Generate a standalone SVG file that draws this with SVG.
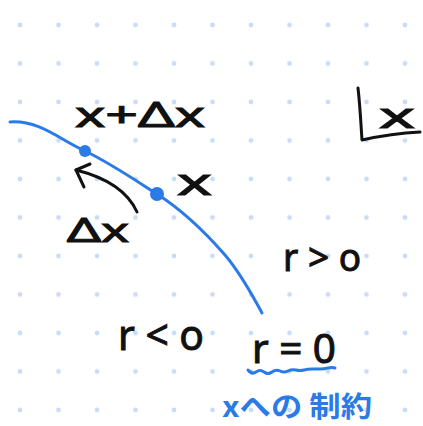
<svg xmlns="http://www.w3.org/2000/svg" width="423" height="426" viewBox="0 0 423 426">
<defs>
<pattern id="dots" x="0" y="0" width="38.5" height="38.5" patternUnits="userSpaceOnUse" patternTransform="translate(20,25)">
<circle cx="0" cy="0" r="2.4" fill="#c9dcf7"/><circle cx="38.5" cy="0" r="2.4" fill="#c9dcf7"/><circle cx="0" cy="38.5" r="2.4" fill="#c9dcf7"/><circle cx="38.5" cy="38.5" r="2.4" fill="#c9dcf7"/>
</pattern>
<style>
.ink{font-family:"Noto Sans","DejaVu Sans",sans-serif;fill:#111;stroke:#111;stroke-width:1;}
.blue{font-family:"Noto Sans CJK JP","Noto Sans",sans-serif;fill:#2a7ae8;font-weight:bold;}
.stroke{fill:none;stroke:#111;stroke-width:3;stroke-linecap:round;stroke-linejoin:round;}
.bstroke{fill:none;stroke:#2a7ae8;stroke-width:3;stroke-linecap:round;stroke-linejoin:round;}
</style>
</defs>
<rect width="423" height="426" fill="#fff"/>
<rect width="423" height="426" fill="url(#dots)"/>
<g id="curve">
<path class="bstroke" d="M10,122 C40,120 60,140 85,151 C110,163 135,180 157,194 C185,212 205,232 225,255 C242,275 252,295 262,313"/>
<circle cx="85" cy="151" r="6" fill="#2a7ae8"/>
<circle cx="157" cy="194" r="7" fill="#2a7ae8"/>
</g>
<g id="arrow">
<path class="stroke" d="M137,212 C128,192 108,178 76,170"/>
<path class="stroke" d="M90,164 L76,170 L84,187"/>
</g>
<g id="labels">
<text class="ink" x="75" y="127" font-size="34" textLength="130" lengthAdjust="spacingAndGlyphs">x+Δx</text>
<text class="ink" x="177" y="195" font-size="36" textLength="35" lengthAdjust="spacingAndGlyphs">x</text>
<text class="ink" x="67" y="242" font-size="32" textLength="62" lengthAdjust="spacingAndGlyphs">Δx</text>
<text class="ink" x="283" y="271" font-size="38" textLength="78" lengthAdjust="spacingAndGlyphs">r &gt; o</text>
<text class="ink" x="118" y="350" font-size="42" textLength="86" lengthAdjust="spacingAndGlyphs">r &lt; o</text>
<text class="ink" x="252" y="363" font-size="40" textLength="84" lengthAdjust="spacingAndGlyphs">r = 0</text>
<text class="ink" x="379" y="128" font-size="34" textLength="36" lengthAdjust="spacingAndGlyphs">x</text>
<text class="blue" x="222" y="417" font-size="28" textLength="150" lengthAdjust="spacingAndGlyphs">xへの 制約</text>
</g>
<g id="marks">
<path class="stroke" d="M358,88 C360,105 361,125 362,140 C380,136 400,133 420,132"/>
<path class="bstroke" stroke-width="2.5" d="M248,370 Q252,375 256,372 T264,372 T272,372 T280,371 T288,371 T296,370 T304,370 T312,369 T320,369 T328,368 T335,368"/>
</g>
</svg>
